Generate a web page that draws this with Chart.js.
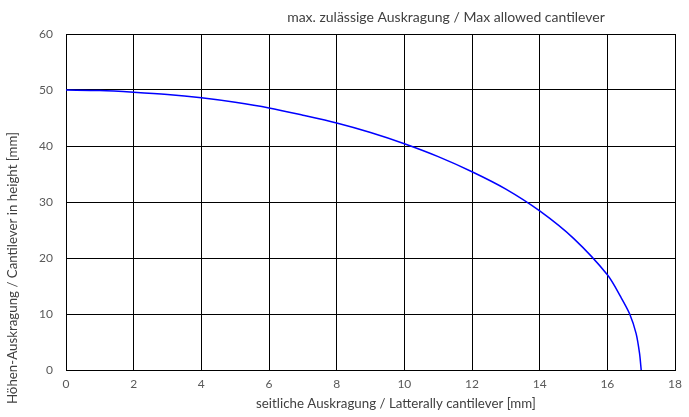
<!DOCTYPE html>
<html><head><meta charset="utf-8">
<script src="https://cdn.jsdelivr.net/npm/chart.js@4/dist/chart.umd.min.js"></script>
<style>html,body{margin:0;padding:0;background:#fff}#w{width:689px;height:417px}</style>
</head><body><div id="w"><canvas id="c"></canvas></div>
<script>
const chartTitle = "max. zulässige Auskragung / Max allowed cantilever";
const xTitle = "seitliche Auskragung / Latterally cantilever [mm]";
const yTitle = "Höhen-Auskragung / Cantilever in height [mm]";
const lateral = [0, 1, 2, 3, 4, 5, 6, 7, 8, 9, 10, 11, 12, 13, 14, 15, 16, 16.4, 16.66, 16.85, 16.95, 17];
const height  = [50, 49.9, 49.6, 49.2, 48.6, 47.8, 46.8, 45.5, 44.1, 42.4, 40.4, 38.1, 35.4, 32.3, 28.4, 23.5, 17.0, 13.0, 10.0, 6.5, 3.0, 0];

const FONT = "Lato, 'Open Sans', sans-serif";
const titlePlugin = {
  id: 'tt',
  afterDraw(ch) {
    const ctx = ch.ctx; ctx.save();
    ctx.fillStyle = "#404040";
    ctx.textAlign = "center"; ctx.textBaseline = "middle";
    ctx.font = "14px " + FONT;
    ctx.fillText(chartTitle, 446, 17);
    ctx.font = "13.3px " + FONT;
    ctx.fillText(xTitle, 396, 404);
    ctx.translate(13, 268); ctx.rotate(-Math.PI / 2);
    ctx.fillText(yTitle, 0, 0);
    ctx.restore();
  }
};
new Chart(document.getElementById('c'), {
  type: 'scatter',
  data: { datasets: [{
    data: lateral.map((x, i) => ({x, y: height[i]})),
    showLine: true, borderColor: '#0000ff', borderWidth: 1.5, pointRadius: 0, tension: 0.3, fill: false
  }]},
  options: {
    responsive: true, maintainAspectRatio: false, animation: false,
    layout: { padding: { top: 34, right: 0, left: 0, bottom: 0 } },
    plugins: { legend: { display: false }, tooltip: { enabled: false } },
    scales: {
      x: { type: 'linear', min: 0, max: 18,
        ticks: { stepSize: 2, color: '#595959', font: { family: FONT, size: 12 }, padding: 7 },
        grid: { color: '#000', lineWidth: 1, drawTicks: false },
        border: { color: '#000' },
        afterFit(s) { s.height = 47; } },
      y: { min: 0, max: 60,
        ticks: { stepSize: 10, color: '#595959', font: { family: FONT, size: 12 }, padding: 13 },
        grid: { color: '#000', lineWidth: 1, drawTicks: false },
        border: { color: '#000' },
        afterFit(s) { s.width = 66; } }
    }
  },
  plugins: [titlePlugin]
});
</script></body></html>
